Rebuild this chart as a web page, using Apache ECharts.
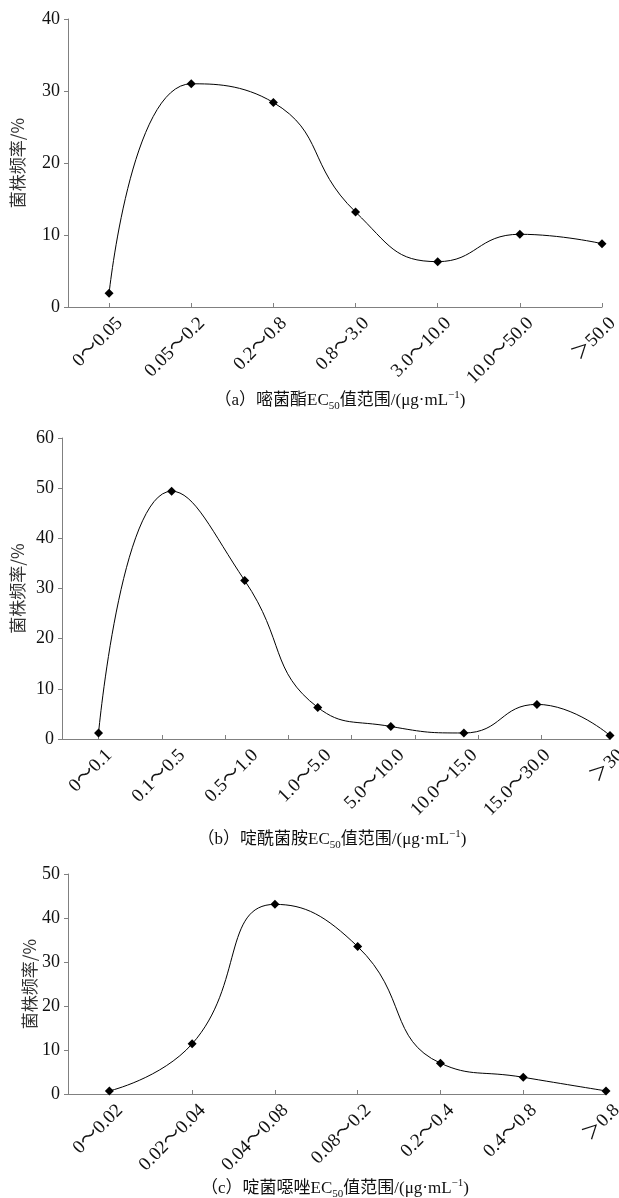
<!DOCTYPE html>
<html>
<head>
<meta charset="utf-8">
<script src="https://cdn.jsdelivr.net/npm/echarts@6/dist/echarts.min.js"></script>
<style>
html,body{margin:0;padding:0;background:#fff;}
#c{width:619px;height:1198px;}
</style>
</head>
<body>
<div id="c"></div>
<script>
// ---- data ----
const catsA = ['0～0.05','0.05～0.2','0.2～0.8','0.8～3.0','3.0～10.0','10.0～50.0','＞50.0'];
const valsA = [1.9, 31.0, 28.4, 13.2, 6.3, 10.1, 8.8];
const catsB = ['0～0.1','0.1～0.5','0.5～1.0','1.0～5.0','5.0～10.0','10.0～15.0','15.0～30.0','＞30'];
const valsB = [1.2, 49.4, 31.6, 6.3, 2.5, 1.2, 6.9, 0.7];
const catsC = ['0～0.02','0.02～0.04','0.04～0.08','0.08～0.2','0.2～0.4','0.4～0.8','＞0.8'];
const valsC = [0.7, 11.4, 43.1, 33.5, 7.0, 3.8, 0.7];
const yMaxA = 40, yMaxB = 60, yMaxC = 50, yStep = 10;
const yName = '菌株频率/%';
const titleA = ['（a）嘧菌酯EC', '50', '值范围/(μg·mL', '−1', ')'];
const titleB = ['（b）啶酰菌胺EC', '50', '值范围/(μg·mL', '−1', ')'];
const titleC = ['（c）啶菌噁唑EC', '50', '值范围/(μg·mL', '−1', ')'];

// ---- styling ----
const SERIF = "'Liberation Serif','Noto Sans CJK SC',serif";
const AXIS_COLOR = '#808080';
const TEXT_COLOR = '#111';

function idx(n){ return Array.from({length:n},(_,i)=>i); }

function xAxisFor(gi, cats, tickVals){
  return {
    type:'value', gridIndex:gi, min:-0.5, max:cats.length-1,
    splitLine:{show:false},
    axisLine:{onZero:false, lineStyle:{color:AXIS_COLOR,width:1}},
    axisTick:{show:true, inside:true, length:4, lineStyle:{color:AXIS_COLOR}, customValues: tickVals || idx(cats.length)},
    axisLabel:{customValues: idx(cats.length), rotate:45, margin:24, color:TEXT_COLOR,
      fontFamily:SERIF, fontSize:19, hideOverlap:false, padding:[0,-15,0,0],
      formatter:(v)=>{ const i=Math.round(v); return cats[i]!==undefined?cats[i]:''; }}
  };
}
function yAxisFor(gi, max, gap){
  return {
    type:'value', gridIndex:gi, min:0, max:max, interval:yStep,
    splitLine:{show:false},
    axisLine:{show:true, onZero:false, lineStyle:{color:AXIS_COLOR,width:1}},
    axisTick:{show:true, inside:false, length:4, lineStyle:{color:AXIS_COLOR}},
    axisLabel:{color:TEXT_COLOR, fontFamily:SERIF, fontSize:18, margin:8},
    name:yName, nameLocation:'middle', nameGap:gap, nameRotate:90, nameMoveOverlap:false,
    nameTextStyle:{color:'#333', fontFamily:"'Noto Sans CJK SC',sans-serif", fontSize:17}
  };
}
function seriesFor(gi, vals){
  return {
    type:'line', xAxisIndex:gi, yAxisIndex:gi, smooth:0.5,
    data: vals.map((v,i)=>[i,v]),
    symbol:'diamond', symbolSize:9,
    itemStyle:{color:'#000'},
    lineStyle:{color:'#000', width:1}
  };
}
function titleFor(parts, x, y){
  return {
    left:x, top:y, textAlign:'center',
    text:'{n|'+parts[0]+'}{sub|'+parts[1]+'}{n|'+parts[2]+'}{sup|'+parts[3]+'}{n|'+parts[4]+'}',
    textStyle:{
      fontWeight:'normal',
      rich:{
        n:{fontFamily:SERIF, fontSize:17, fontWeight:'normal', color:TEXT_COLOR, lineHeight:22},
        sub:{fontFamily:SERIF, fontSize:11, fontWeight:'normal', color:TEXT_COLOR, lineHeight:10, verticalAlign:'bottom'},
        sup:{fontFamily:SERIF, fontSize:11, fontWeight:'normal', color:TEXT_COLOR, lineHeight:12, verticalAlign:'top'}
      }
    }
  };
}

const tickB = idx(catsB.length).map(k=>k*0.866);

const chart = echarts.init(document.getElementById('c'), null, {renderer:'canvas'});
chart.setOption({
  backgroundColor:'#fff',
  animation:false,
  title:[ titleFor(titleA, 335, 385), titleFor(titleB, 327, 824), titleFor(titleC, 330, 1173) ],
  grid:[
    {left:68, top:19, width:534, height:288, containLabel:false, outerBoundsMode:'none'},
    {left:62, top:438, width:548, height:301, containLabel:false, outerBoundsMode:'none'},
    {left:68, top:874, width:538, height:220, containLabel:false, outerBoundsMode:'none'}
  ],
  xAxis:[ xAxisFor(0,catsA,null), xAxisFor(1,catsB,tickB), xAxisFor(2,catsC,null) ],
  yAxis:[ yAxisFor(0,yMaxA,42), yAxisFor(1,yMaxB,36), yAxisFor(2,yMaxC,30) ],
  series:[ seriesFor(0,valsA), seriesFor(1,valsB), seriesFor(2,valsC) ]
});
</script>
</body>
</html>
